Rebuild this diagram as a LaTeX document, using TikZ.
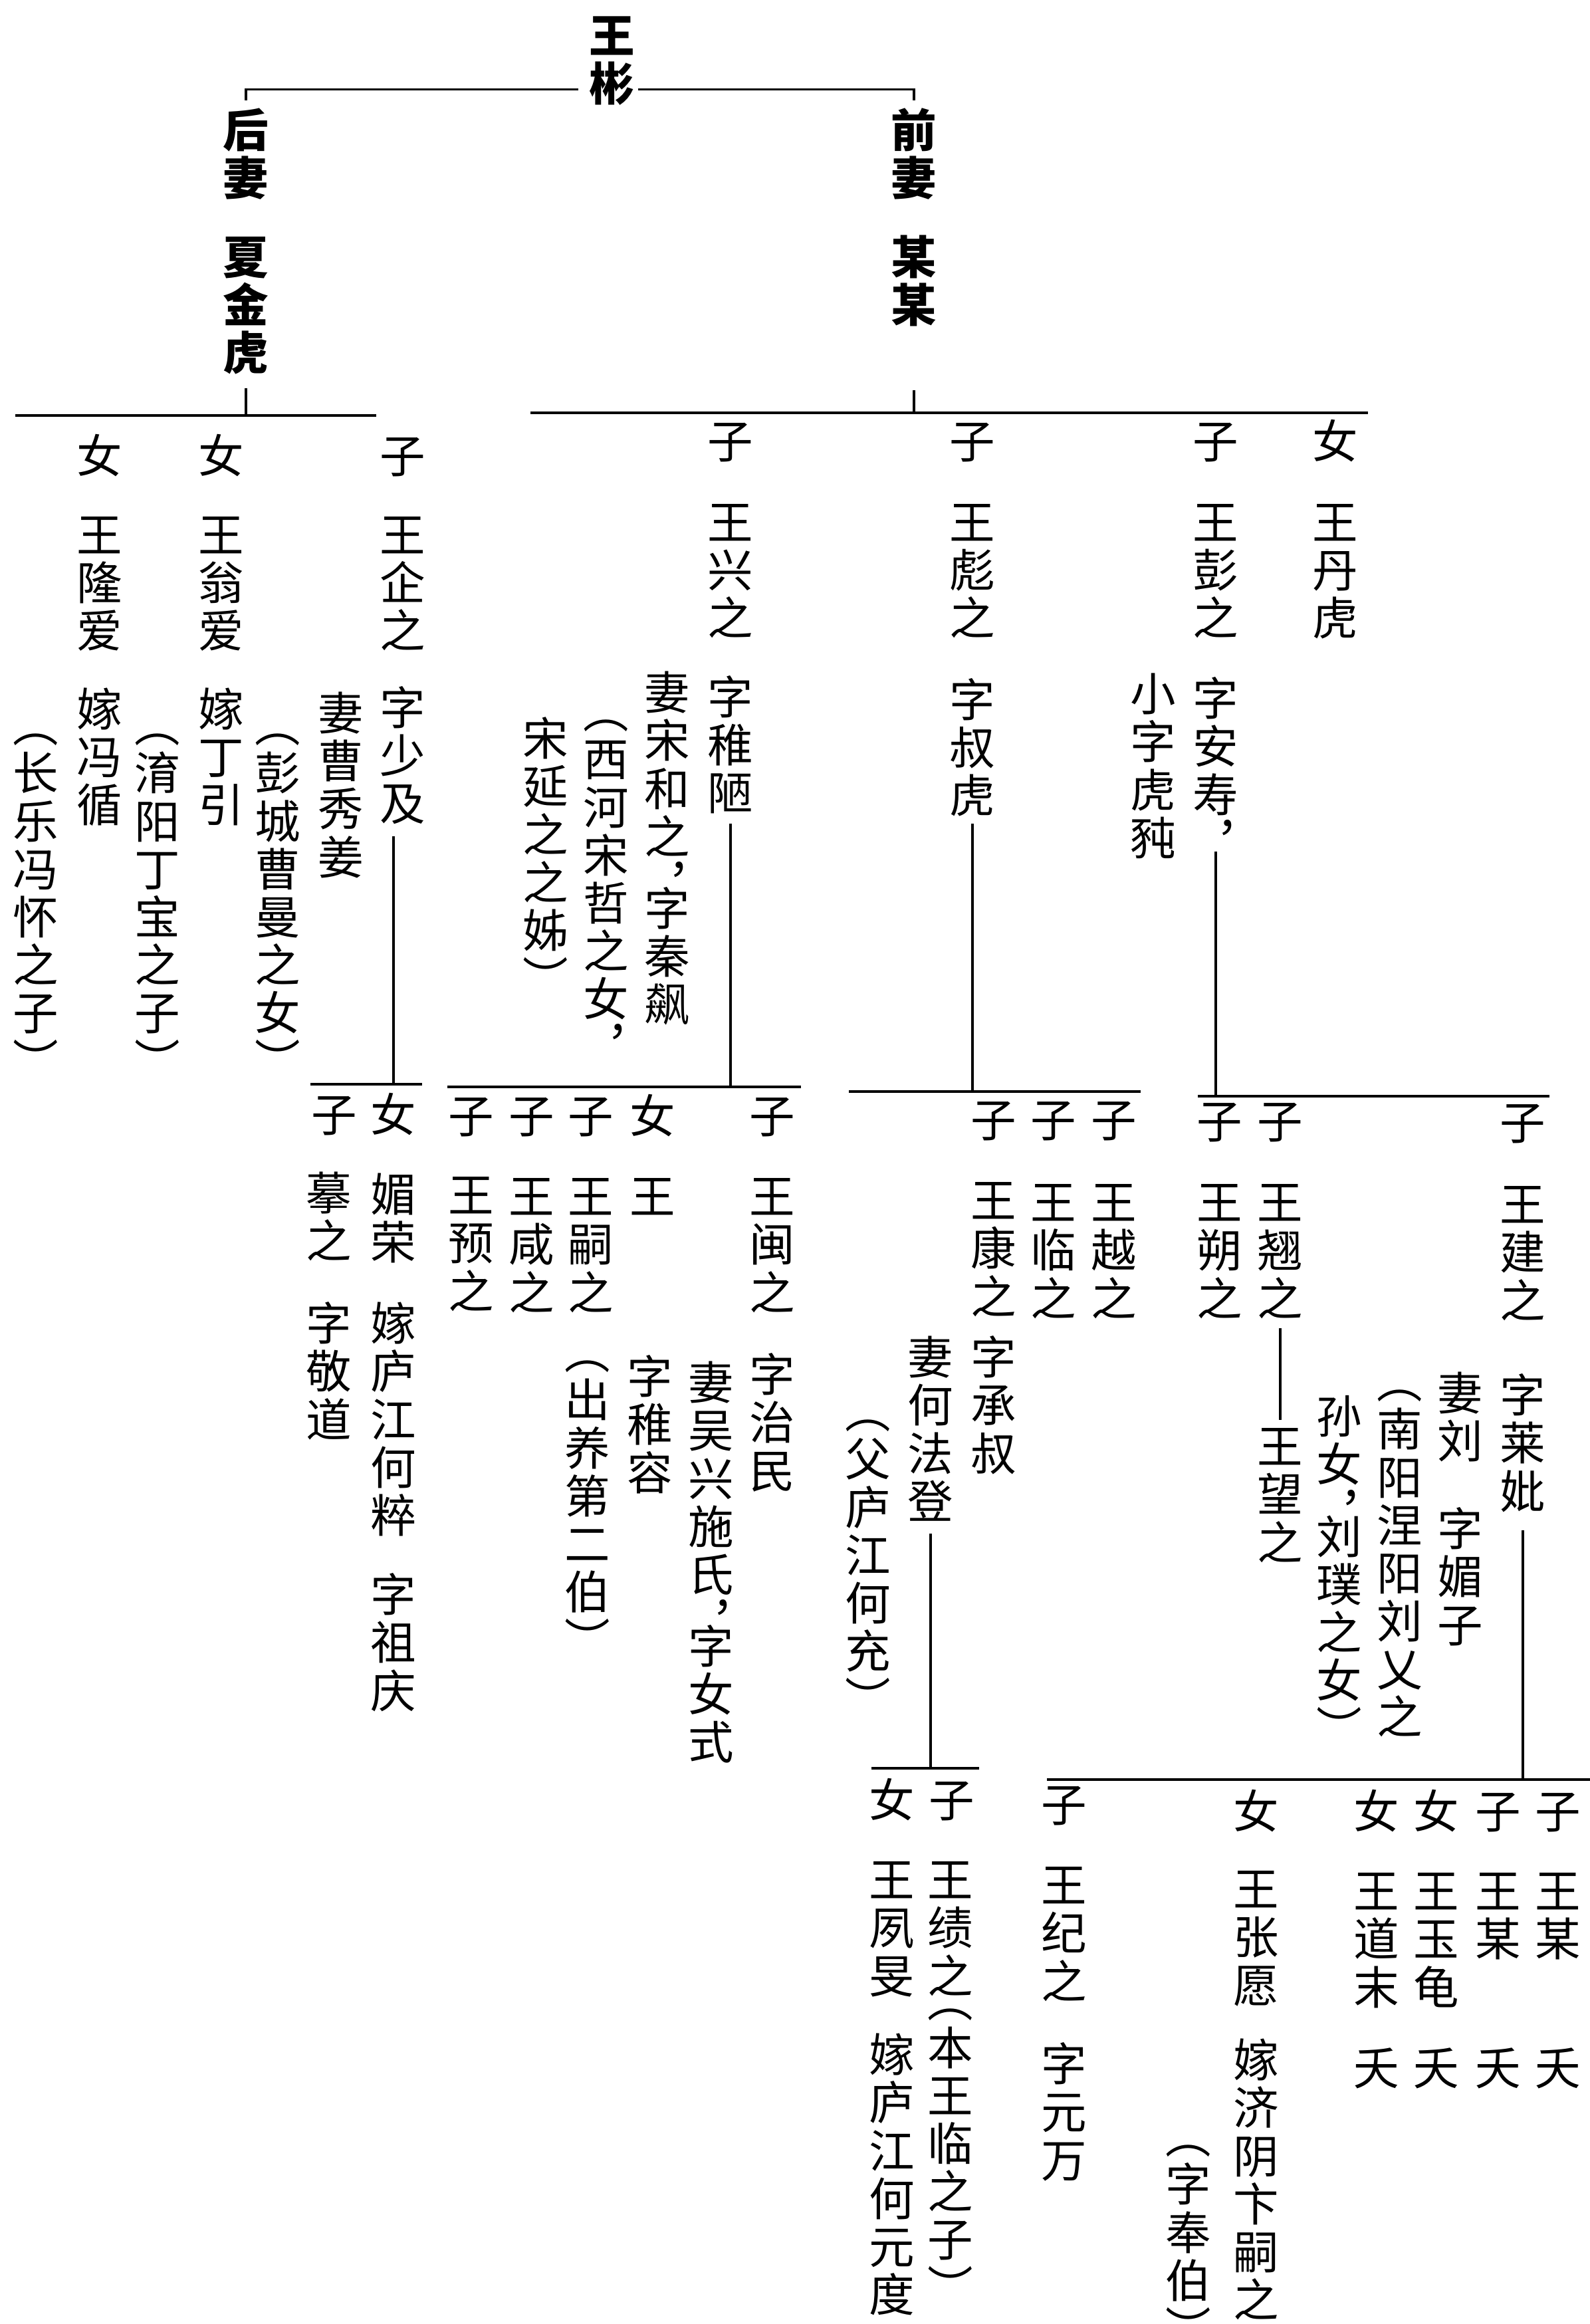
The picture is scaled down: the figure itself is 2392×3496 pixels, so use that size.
\documentclass[tikz,border=0pt]{standalone}
\usepackage{fontspec}
\newfontfamily\cjk{Noto Sans CJK SC}
\newcommand{\vs}{\rule{0pt}{0.88em}}
\tikzset{
  col/.style={align=center, inner sep=0pt, anchor=north,
    font=\cjk\fontsize{19.5}{20.5}\selectfont},
  colb/.style={col, font=\cjk\bfseries\fontsize{19.5}{20.5}\selectfont},
}
\begin{document}
\begin{tikzpicture}[x=0.1mm, y=-0.1mm, line width=0.9pt]
\useasboundingbox (0,0) rectangle (2392,3496);

% head
\node[colb] (wangbin) at (921,18) {\vs 王\\彬};
\node[colb] (houqi) at (370,160) {\vs 后\\妻};
\node[colb] (xiajinhu) at (370,351) {\vs 夏\\金\\虎};
\node[colb] (qianqi) at (1375,160) {\vs 前\\妻};
\node[colb] (moumou) at (1375,351) {\vs 某\\某};
\draw ([xshift=-1.5mm,yshift=2.6mm]wangbin.south west) -| ([yshift=0.9mm]houqi.north);
\draw ([xshift=0.3mm,yshift=2.6mm]wangbin.south east) -| ([yshift=0.9mm]qianqi.north);

% children of xia jinhu
\coordinate (bxj-l) at (23,625); \coordinate (bxj-r) at (566,625);
\draw (bxj-l) -- (bxj-r);
\draw ([yshift=-1.9mm]xiajinhu.south) -- (xiajinhu.south |- bxj-l);
\node[col] (g1-nu1) at (150,650) {\vs 女};
\node[col] (longai) at (150,769) {\vs 王\\隆\\爱};
\node[col] (longai-j) at (150,1031) {\vs 嫁\\冯\\循};
\node[col] (longai-p) at (54,1055) {\vs ︵\\长\\乐\\冯\\怀\\之\\子\\︶};
\node[col] (g1-nu2) at (333,650) {\vs 女};
\node[col] (wengai) at (333,769) {\vs 王\\翁\\爱};
\node[col] (wengai-j) at (333,1031) {\vs 嫁\\丁\\引};
\node[col] (wengai-p) at (237,1055) {\vs ︵\\淯\\阳\\丁\\宝\\之\\子\\︶};
\node[col] (g1-zi1) at (606,650) {\vs 子};
\node[col] (qizhi) at (606,769) {\vs 王\\企\\之};
\node[col] (qizhi-z) at (606,1029) {\vs 字\\少\\及};
\node[col] (qizhi-w) at (513,1037) {\vs 妻\\曹\\秀\\姜};
\node[col] (qizhi-wp) at (418,1055) {\vs ︵\\彭\\城\\曹\\曼\\之\\女\\︶};

% children of moumou
\coordinate (bmm-l) at (798,621); \coordinate (bmm-r) at (2058,621);
\draw (bmm-l) -- (bmm-r);
\draw ([yshift=-9.4mm]moumou.south) -- (moumou.south |- bmm-l);
\node[col] (g1-zi2) at (1099,628) {\vs 子};
\node[col] (xingzhi) at (1099,750) {\vs 王\\兴\\之};
\node[col] (xingzhi-z) at (1099,1013) {\vs 字\\稚\\陋};
\node[col] (xingzhi-w) at (1004,1006) {\vs 妻\\宋\\和\\之\\︐\\[-0.5\baselineskip]字\\秦\\飙};
\node[col] (xingzhi-wp) at (912,1034) {\vs ︵\\西\\河\\宋\\哲\\之\\女\\︐};
\node[col] (xingzhi-wq) at (821,1075) {\vs 宋\\延\\之\\之\\姊\\︶};
\node[col] (g1-zi3) at (1463,628) {\vs 子};
\node[col] (biaozhi) at (1463,750) {\vs 王\\彪\\之};
\node[col] (biaozhi-z) at (1463,1017) {\vs 字\\叔\\虎};
\node[col] (g1-zi4) at (1829,628) {\vs 子};
\node[col] (pengzhi) at (1829,750) {\vs 王\\彭\\之};
\node[col] (pengzhi-z) at (1829,1015) {\vs 字\\安\\寿\\︐};
\node[col] (pengzhi-x) at (1735,1008) {\vs 小\\字\\虎\\豘};
\node[col] (g1-nu3) at (2009,628) {\vs 女};
\node[col] (danhu) at (2009,750) {\vs 王\\丹\\虎};

% children of wang qizhi
\coordinate (bqz-l) at (467,1631); \coordinate (bqz-r) at (635,1631);
\draw (bqz-l) -- (bqz-r);
\node[col] (g2-zi1) at (503,1641) {\vs 子};
\node[col] (mozhi) at (495,1759) {\vs 摹\\之};
\node[col] (mozhi-z) at (495,1955) {\vs 字\\敬\\道};
\node[col] (g2-nu1) at (592,1641) {\vs 女};
\node[col] (meirong) at (592,1761) {\vs 媚\\荣};
\node[col] (meirong-j) at (592,1955) {\vs 嫁\\庐\\江\\何\\粹};
\node[col] (meirong-z) at (592,2363) {\vs 字\\祖\\庆};
\draw ([yshift=-1.6mm]qizhi-z.south -| g2-nu1.north) -- (g2-nu1.north |- bqz-l);

% children of wang xingzhi
\coordinate (bxz-l) at (673,1635); \coordinate (bxz-r) at (1205,1635);
\draw (bxz-l) -- (bxz-r);
\draw ([yshift=-1.3mm]xingzhi-z.south) -- (xingzhi-z.south |- bxz-l);
\node[col] (g2-zi2) at (709,1643) {\vs 子};
\node[col] (yuzhi) at (709,1762) {\vs 王\\预\\之};
\node[col] (g2-zi3) at (800,1643) {\vs 子};
\node[col] (xianzhi) at (800,1764) {\vs 王\\咸\\之};
\node[col] (g2-zi4) at (889,1643) {\vs 子};
\node[col] (sizhi) at (889,1764) {\vs 王\\嗣\\之};
\node[col] (sizhi-p) at (884,1998) {\vs ︵\\出\\养\\第\\二\\伯\\︶};
\node[col] (g2-nu2) at (982,1643) {\vs 女};
\node[col] (xingnu) at (982,1764) {\vs 王};
\node[col] (xingnu-z) at (978,2035) {\vs 字\\稚\\容};
\node[col] (g2-zi5) at (1162,1643) {\vs 子};
\node[col] (minzhi) at (1162,1764) {\vs 王\\闽\\之};
\node[col] (minzhi-z) at (1162,2032) {\vs 字\\治\\民};
\node[col] (minzhi-w) at (1070,2044) {\vs 妻\\吴\\兴\\施\\氏\\︐\\[-0.5\baselineskip]字\\女\\式};

% children of wang biaozhi
\coordinate (bbz-l) at (1277,1642); \coordinate (bbz-r) at (1716,1642);
\draw (bbz-l) -- (bbz-r);
\draw ([yshift=-0.9mm]biaozhi-z.south) -- (biaozhi-z.south |- bbz-l);
\node[col] (g2-zi6) at (1495,1649) {\vs 子};
\node[col] (kangzhi) at (1495,1770) {\vs 王\\康\\之};
\node[col] (kangzhi-z) at (1495,2006) {\vs 字\\承\\叔};
\node[col] (kangzhi-w) at (1400,2006) {\vs 妻\\何\\法\\登};
\node[col] (kangzhi-wp) at (1306,2087) {\vs ︵\\父\\庐\\江\\何\\充\\︶};
\node[col] (g2-zi7) at (1585,1649) {\vs 子};
\node[col] (linzhi) at (1585,1773) {\vs 王\\临\\之};
\node[col] (g2-zi8) at (1676,1649) {\vs 子};
\node[col] (yuezhi) at (1676,1773) {\vs 王\\越\\之};

% children of wang pengzhi
\coordinate (bpz-l) at (1802,1649); \coordinate (bpz-r) at (2331,1649);
\draw (bpz-l) -- (bpz-r);
\draw ([yshift=1.4mm]pengzhi-z.south) -- (pengzhi-z.south |- bpz-l);
\node[col] (g2-zi9) at (1835,1651) {\vs 子};
\node[col] (shuozhi) at (1835,1773) {\vs 王\\朔\\之};
\node[col] (g2-zi10) at (1926,1651) {\vs 子};
\node[col] (qiaozhi) at (1926,1773) {\vs 王\\翘\\之};
\node[col] (wangzhi) at (1926,2140) {\vs 王\\望\\之};
\draw ([yshift=-1.3mm]qiaozhi.south) -- ([yshift=0.4mm]wangzhi.north);
\node[col] (g2-zi11) at (2291,1653) {\vs 子};
\node[col] (jianzhi) at (2291,1776) {\vs 王\\建\\之};
\node[col] (jianzhi-z) at (2291,2063) {\vs 字\\莱\\妣};
\node[col] (jianzhi-w) at (2197,2060) {\vs 妻\\刘};
\node[col] (jianzhi-wz) at (2197,2264) {\vs 字\\媚\\子};
\node[col] (jianzhi-wp) at (2106,2042) {\vs ︵\\南\\阳\\涅\\阳\\刘\\乂\\之};
\node[col] (jianzhi-wq) at (2015,2095) {\vs 孙\\女\\︐\\[-0.5\baselineskip]刘\\璞\\之\\女\\︶};

% children of wang kangzhi
\coordinate (bkz-l) at (1311,2660); \coordinate (bkz-r) at (1473,2660);
\draw (bkz-l) -- (bkz-r);
\draw ([yshift=-1.8mm]kangzhi-w.south) -- (kangzhi-w.south |- bkz-l);
\node[col] (g3-nu1) at (1342,2672) {\vs 女};
\node[col] (sumin) at (1342,2792) {\vs 王\\夙\\旻};
\node[col] (sumin-j) at (1342,3055) {\vs 嫁\\庐\\江\\何\\元\\度};
\node[col] (g3-zi1) at (1432,2672) {\vs 子};
\node[col] (jizhi) at (1430,2792) {\vs 王\\绩\\之\\[-0.5\baselineskip]︵\\本\\王\\临\\之\\子\\︶};

% children of wang jianzhi
\coordinate (bjz-l) at (1575,2677); \coordinate (bjz-r) at (2392,2677);
\draw (bjz-l) -- (bjz-r);
\draw ([yshift=-2.6mm]jianzhi-z.south) -- (jianzhi-z.south |- bjz-l);
\node[col] (g3-zi2) at (1601,2679) {\vs 子};
\node[col] (jizhi2) at (1601,2800) {\vs 王\\纪\\之};
\node[col] (jizhi2-z) at (1601,3069) {\vs 字\\元\\万};
\node[col] (g3-nu2) at (1890,2689) {\vs 女};
\node[col] (zhangyuan) at (1890,2806) {\vs 王\\张\\愿};
\node[col] (zhangyuan-j) at (1890,3063) {\vs 嫁\\济\\阴\\卞\\嗣\\之};
\node[col] (zhangyuan-p) at (1788,3178) {\vs ︵\\字\\奉\\伯\\[-0.6\baselineskip]\smash{\raisebox{-0.6\baselineskip}{︶}}};
\node[col] (g3-nu3) at (2071,2689) {\vs 女};
\node[col] (daomo) at (2071,2809) {\vs 王\\道\\末};
\node[col] (daomo-y) at (2071,3075) {\vs 夭};
\node[col] (g3-nu4) at (2161,2689) {\vs 女};
\node[col] (yugui) at (2161,2809) {\vs 王\\玉\\龟};
\node[col] (yugui-y) at (2161,3075) {\vs 夭};
\node[col] (g3-zi3) at (2254,2689) {\vs 子};
\node[col] (mou1) at (2254,2809) {\vs 王\\某};
\node[col] (mou1-y) at (2254,3075) {\vs 夭};
\node[col] (g3-zi4) at (2344,2689) {\vs 子};
\node[col] (mou2) at (2344,2809) {\vs 王\\某};
\node[col] (mou2-y) at (2344,3075) {\vs 夭};
\end{tikzpicture}
\end{document}
